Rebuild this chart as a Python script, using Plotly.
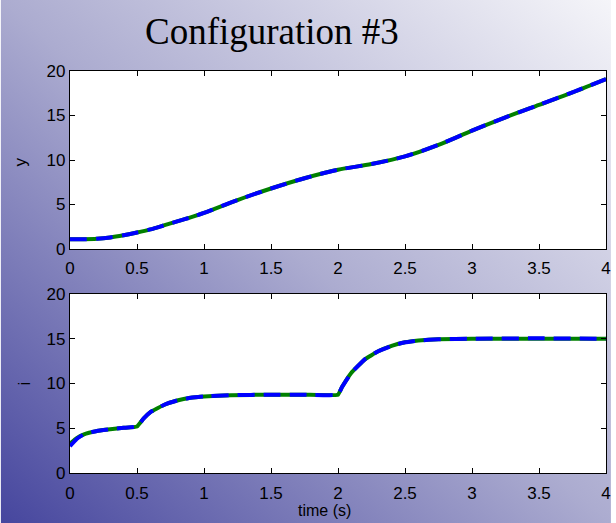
import base64
import plotly.graph_objects as go

# ---- data ----
t_y = [0, 0.1, 0.2, 0.3, 0.4, 0.5, 0.6, 0.7, 0.8, 0.9, 1.0, 1.25, 1.5, 1.75, 2.0,
       2.25, 2.5, 2.75, 3.0, 3.25, 3.5, 3.75, 4.0]
y_ref = [1.1, 1.1, 1.15, 1.3, 1.55, 1.85, 2.2, 2.65, 3.1, 3.55, 4.05, 5.5, 6.8, 7.95, 8.9,
         9.55, 10.4, 11.7, 13.3, 14.8, 16.2, 17.6, 19.1]
y_act = [1.1, 1.1, 1.15, 1.3, 1.55, 1.85, 2.2, 2.65, 3.1, 3.55, 4.05, 5.5, 6.8, 7.95, 8.9,
         9.55, 10.4, 11.7, 13.3, 14.8, 16.2, 17.6, 19.1]

t_i = [0, 0.05, 0.1, 0.2, 0.3, 0.4, 0.5, 0.55, 0.6, 0.7, 0.8, 0.9, 1.0, 1.2, 1.5, 1.75, 2.0,
       2.03, 2.1, 2.2, 2.3, 2.4, 2.5, 2.6, 2.75, 3.0, 3.5, 4.0]
i_ref = [3.3, 3.9, 4.3, 4.7, 4.9, 5.05, 5.2, 6.1, 6.8, 7.6, 8.1, 8.4, 8.55, 8.7, 8.75, 8.75, 8.75,
         9.6, 11.2, 12.7, 13.6, 14.2, 14.6, 14.8, 14.95, 15.0, 15.0, 15.0]
i_act = [3.0, 3.8, 4.3, 4.7, 4.9, 5.05, 5.2, 6.1, 6.8, 7.6, 8.1, 8.4, 8.55, 8.7, 8.75, 8.75, 8.75,
         9.6, 11.2, 12.7, 13.6, 14.2, 14.6, 14.8, 14.95, 15.0, 15.05, 15.0]

x_ticks = [0, 0.5, 1, 1.5, 2, 2.5, 3, 3.5, 4]
x_tick_text = ["0", "0.5", "1", "1.5", "2", "2.5", "3", "3.5", "4"]
y_ticks = [0, 5, 10, 15, 20]

title_text = "Configuration #3"
y_label = "y"
i_label = "i"
x_label = "time (s)"

# ---- figure ----
W, H = 616, 523
L, R, T, B = 70, 5, 71, 50
pw, ph = W - L - R, H - T - B

fig = go.Figure()
green = "rgb(0,128,0)"
blue = "rgb(0,0,255)"

fig.add_trace(go.Scatter(x=t_y, y=y_ref, mode="lines", line=dict(color=green, width=4, shape="spline", smoothing=0.8),
                         xaxis="x", yaxis="y", showlegend=False, hoverinfo="skip"))
fig.add_trace(go.Scatter(x=t_y, y=y_act, mode="lines", line=dict(color=blue, width=4, dash="17px,9px", shape="spline", smoothing=0.8),
                         xaxis="x", yaxis="y", showlegend=False, hoverinfo="skip"))
fig.add_trace(go.Scatter(x=t_i, y=i_ref, mode="lines", line=dict(color=green, width=4, shape="spline", smoothing=0.3),
                         xaxis="x2", yaxis="y2", showlegend=False, hoverinfo="skip"))
fig.add_trace(go.Scatter(x=t_i, y=i_act, mode="lines", line=dict(color=blue, width=4, dash="17px,9px", shape="spline", smoothing=0.3),
                         xaxis="x2", yaxis="y2", showlegend=False, hoverinfo="skip"))

tickfont = dict(family="Liberation Sans, Arial", size=17, color="black")
axis_common = dict(showline=True, linecolor="black", linewidth=1.2, mirror="ticks",
                   ticks="inside", ticklen=5, tickcolor="black", tickwidth=1,
                   showgrid=False, zeroline=False, tickfont=tickfont)

top_dom = [(H - B - 249) / ph, 1.0]
bot_dom = [0.0, (H - B - 294) / ph]

fig.update_layout(
    width=W, height=H,
    margin=dict(l=L, r=R, t=T, b=B),
    paper_bgcolor="rgba(0,0,0,0)",
    plot_bgcolor="rgba(0,0,0,0)",
    xaxis=dict(domain=[0, 1], range=[0, 4], tickvals=x_ticks, ticktext=x_tick_text, anchor="y",
               ticklabelstandoff=3, **axis_common),
    yaxis=dict(domain=top_dom, range=[0, 20], tickvals=y_ticks, anchor="x", **axis_common),
    xaxis2=dict(domain=[0, 1], range=[0, 4], tickvals=x_ticks, ticktext=x_tick_text, anchor="y2",
                ticklabelstandoff=4, **axis_common),
    yaxis2=dict(domain=bot_dom, range=[0, 20], tickvals=y_ticks, anchor="x2", **axis_common),
)

svg = ("<svg xmlns='http://www.w3.org/2000/svg' width='616' height='523' viewBox='0 0 616 523' preserveAspectRatio='none'>"
       "<defs><linearGradient id='g' x1='0' y1='1' x2='1' y2='0'>"
       "<stop offset='0' stop-color='rgb(70,70,158)'/>"
       "<stop offset='0.5' stop-color='rgb(172,172,208)'/>"
       "<stop offset='1' stop-color='rgb(245,245,249)'/>"
       "</linearGradient></defs><rect width='616' height='523' fill='url(#g)'/></svg>")
src = "data:image/svg+xml;base64," + base64.b64encode(svg.encode()).decode()
fig.add_layout_image(dict(source=src, xref="paper", yref="paper",
                          x=-L / pw, y=1 + T / ph, sizex=W / pw, sizey=H / ph,
                          sizing="stretch", xanchor="left", yanchor="top", layer="below"))

# white plot backgrounds
for xr, yr in (("x", "y"), ("x2", "y2")):
    fig.add_shape(type="rect", xref=f"{xr} domain", yref=f"{yr} domain", x0=0, x1=1, y0=0, y1=1,
                  fillcolor="white", line=dict(width=0), layer="below")

def px_x(px):
    return (px - L) / pw

def px_y(py):
    return (H - B - py) / ph

fig.add_annotation(text=title_text, x=px_x(274), y=px_y(31), xref="paper", yref="paper",
                   showarrow=False, xanchor="center", yanchor="middle",
                   font=dict(family="Liberation Serif, Times New Roman", size=37, color="black"))
fig.add_annotation(text=y_label, x=px_x(20), y=px_y(162), xref="paper", yref="paper",
                   showarrow=False, textangle=-90, xanchor="center", yanchor="middle",
                   font=dict(family="Liberation Sans, Arial", size=17, color="black"))
fig.add_annotation(text=i_label, x=px_x(24), y=px_y(383), xref="paper", yref="paper",
                   showarrow=False, textangle=-90, xanchor="center", yanchor="middle",
                   font=dict(family="Liberation Sans, Arial", size=17, color="black"))
fig.add_annotation(text=x_label, x=px_x(327), y=px_y(510), xref="paper", yref="paper",
                   showarrow=False, xanchor="center", yanchor="middle",
                   font=dict(family="Liberation Sans, Arial", size=16, color="black"))

fig.write_html("out.html", config={"displayModeBar": False},
               post_script="document.body.style.margin='0';document.body.style.overflow='hidden';")
